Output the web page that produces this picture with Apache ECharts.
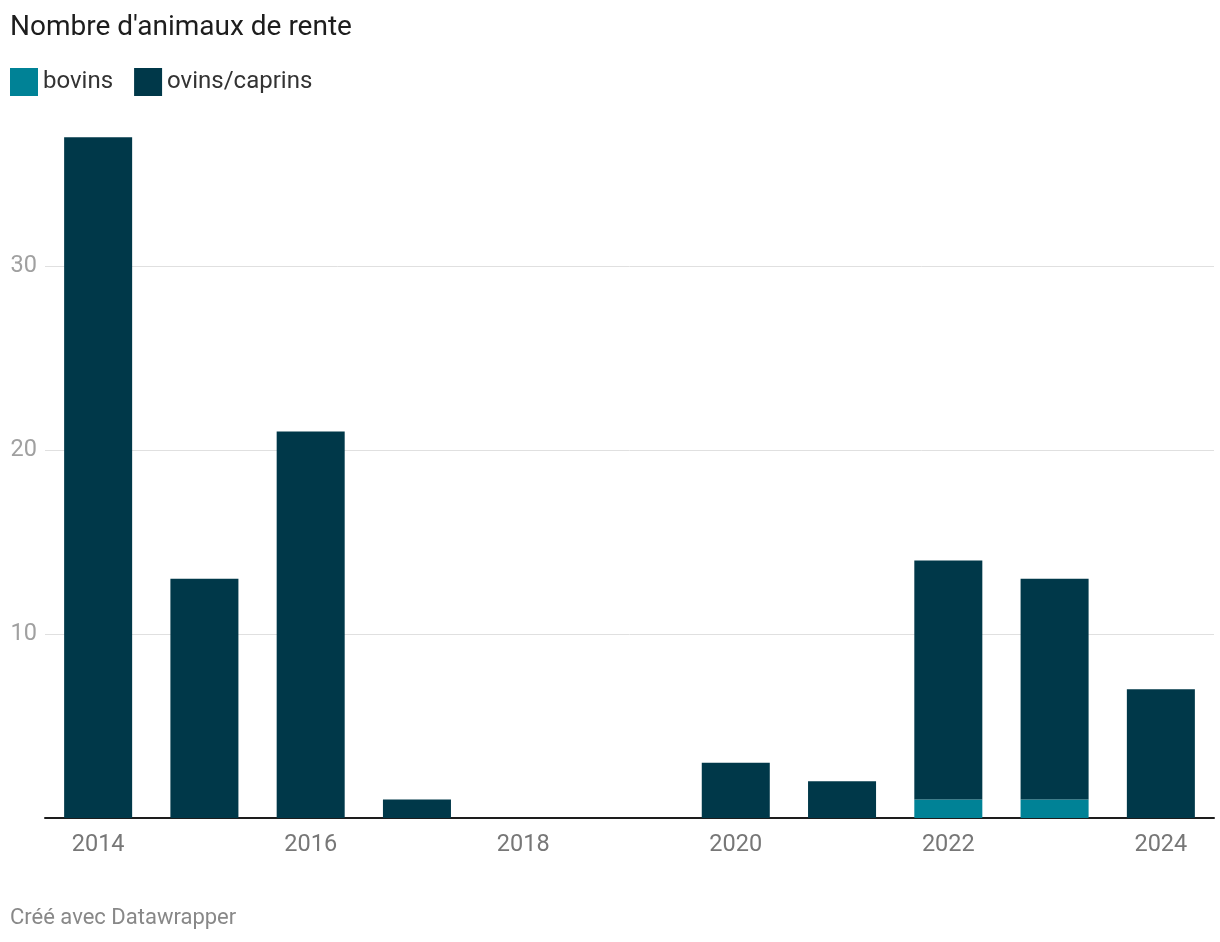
<!DOCTYPE html>
<html><head><meta charset="utf-8">
<script src="https://cdn.jsdelivr.net/npm/echarts@6/dist/echarts.min.js"></script>
<style>html,body{margin:0;padding:0;background:#fff}#c{width:1220px;height:942px}</style>
</head><body><div id="c"></div>
<script>
const years = ['2014','2015','2016','2017','2018','2019','2020','2021','2022','2023','2024'];
const bovins = [0,0,0,0,0,0,0,0,1,1,0];
const ovinsCaprins = [37,13,21,1,0,0,3,2,13,12,7];
const yTicks = [0,10,20,30];

const chart = echarts.init(document.getElementById('c'));
const F = 'Roboto';
chart.setOption({
  animation:false,
  backgroundColor:'#fff',
  title:{text:"Nombre d'animaux de rente",left:10,top:14,padding:0,textStyle:{fontFamily:F,fontSize:28,fontWeight:'normal',color:'#1d1d1d'}},
  legend:{left:10,top:68,padding:0,itemWidth:28,itemHeight:28,itemGap:21,icon:'rect',
    textStyle:{fontFamily:F,fontSize:24,color:'#333'},
    data:['bovins','ovins/caprins']},
  grid:{left:45,right:6,top:82,bottom:124},
  xAxis:{type:'category',data:years,
    axisLine:{lineStyle:{color:'#1d1d1d',width:2}},axisTick:{show:false},
    axisLabel:{interval:1,fontFamily:F,fontSize:23.5,color:'#777',margin:15}},
  yAxis:{type:'value',min:0,max:40,interval:10,
    axisLine:{show:false},axisTick:{show:false},
    splitLine:{lineStyle:{color:['#e0e0e0','#e0e0e0','#e0e0e0','#e0e0e0','transparent']}},
    axisLabel:{fontFamily:F,fontSize:23.5,color:'#a0a0a0',margin:8,
      formatter:v=>yTicks.includes(v)&&v!==0?String(v):''}},
  series:[
    {name:'bovins',type:'bar',stack:'a',data:bovins,barCategoryGap:'36%',itemStyle:{color:'#008296'}},
    {name:'ovins/caprins',type:'bar',stack:'a',data:ovinsCaprins,barCategoryGap:'36%',itemStyle:{color:'#003849'}}
  ],
  graphic:[{type:'text',left:10,top:907,style:{text:'Créé avec Datawrapper',fontFamily:F,fontSize:22,fill:'#888'}}]
});
</script></body></html>
